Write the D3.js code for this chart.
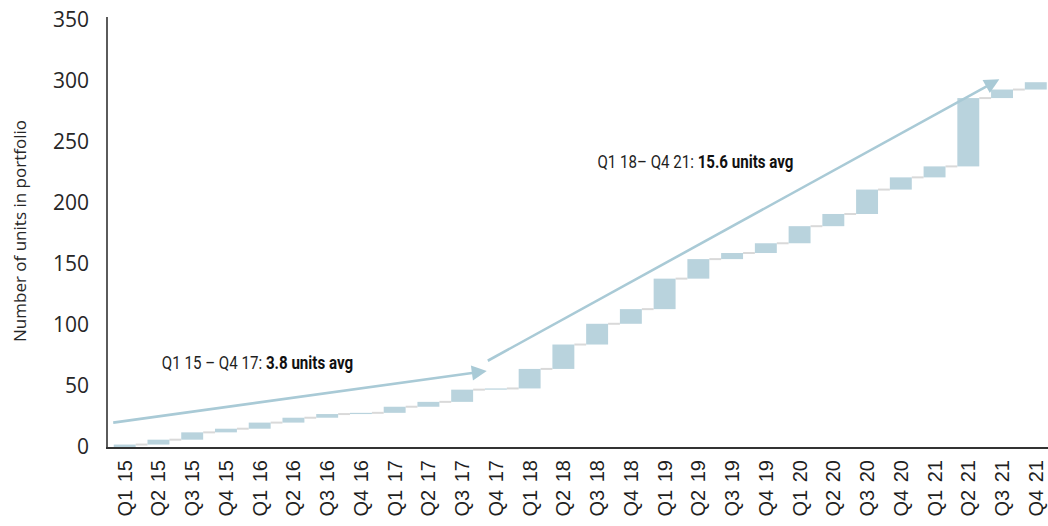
<!DOCTYPE html>
<html>
<head>
<meta charset="utf-8">
<script src="https://cdn.jsdelivr.net/npm/d3@7"></script>
<style>
  html, body { margin: 0; padding: 0; background: #ffffff; }
  svg { display: block; }
</style>
</head>
<body>
<svg id="chart" width="1048" height="526"></svg>
<script>
// Quarterly additions to the portfolio (units), Q1 2015 – Q4 2021
const quarters = [
  "Q1 15", "Q2 15", "Q3 15", "Q4 15",
  "Q1 16", "Q2 16", "Q3 16", "Q4 16",
  "Q1 17", "Q2 17", "Q3 17", "Q4 17",
  "Q1 18", "Q2 18", "Q3 18", "Q4 18",
  "Q1 19", "Q2 19", "Q3 19", "Q4 19",
  "Q1 20", "Q2 20", "Q3 20", "Q4 20",
  "Q1 21", "Q2 21", "Q3 21", "Q4 21"
];
const additions = [
  2, 4, 6, 3,
  5, 4, 3, 1,
  5, 4, 10, 1,
  16, 20, 17, 12,
  25, 16, 5, 8,
  14, 10, 20, 10,
  9, 56, 7, 6
];
const yTicks = [0, 50, 100, 150, 200, 250, 300, 350];
const yTitle = "Number of units in portfolio";

// Trend arrows: [quarter index, units] for start and tip
const trendFrom = [[-0.34, 20], [10.76, 70.7]];
const trendTo = [[10.73, 62.3], [25.92, 301.4]];
// Trend annotations
const trendPeriod = ["Q1 15 – Q4 17: ", "Q1 18– Q4 21: "];
const trendAvg = ["3.8 units avg", "15.6 units avg"];
const trendTextAt = [[1.1, 63.7], [14.01, 228.4]];

const totals = Array.from(d3.cumsum(additions));
const steps = quarters.map((q, i) => ({
  q, start: i === 0 ? 0 : totals[i - 1], end: totals[i]
}));

const svg = d3.select("#chart");
const barColor = "#b9d3dd";
const arrowColor = "#a9cad6";
const connectorColor = "#d9d9d9";
const axisColor = "#333333";

const x = d3.scaleBand()
  .domain(quarters)
  .range([107, 1053.5])
  .paddingInner(0.35)
  .paddingOuter(0.2);

const y = d3.scaleLinear()
  .domain([0, 350])
  .range([447, 20]);

const xIdx = i => x(quarters[0]) + x.bandwidth() / 2 + i * x.step();

// Connectors between consecutive bars at the running total
svg.append("g")
  .selectAll("line")
  .data(steps.slice(0, -1))
  .join("line")
  .attr("x1", d => x(d.q) + x.bandwidth())
  .attr("x2", (d, i) => x(quarters[i + 1]))
  .attr("y1", d => y(d.end))
  .attr("y2", d => y(d.end))
  .attr("stroke", connectorColor)
  .attr("stroke-width", 2);

// Waterfall bars
svg.append("g")
  .selectAll("rect")
  .data(steps)
  .join("rect")
  .attr("x", d => x(d.q))
  .attr("width", x.bandwidth())
  .attr("y", d => y(d.end))
  .attr("height", d => y(d.start) - y(d.end))
  .attr("fill", barColor);

// Trend arrows
const arrows = svg.append("g");
trendFrom.forEach((from, k) => {
  const to = trendTo[k];
  const x1 = xIdx(from[0]), y1 = y(from[1]);
  const x2 = xIdx(to[0]), y2 = y(to[1]);
  const ang = Math.atan2(y2 - y1, x2 - x1);
  const headLen = 15, headHalf = 7.5;
  const bx = x2 - headLen * Math.cos(ang), by = y2 - headLen * Math.sin(ang);
  arrows.append("line")
    .attr("x1", x1).attr("y1", y1)
    .attr("x2", bx + 2 * Math.cos(ang)).attr("y2", by + 2 * Math.sin(ang))
    .attr("stroke", arrowColor)
    .attr("stroke-width", 2.6);
  const px = -Math.sin(ang), py = Math.cos(ang);
  arrows.append("path")
    .attr("d", `M${x2},${y2}L${bx + headHalf * px},${by + headHalf * py}L${bx - headHalf * px},${by - headHalf * py}Z`)
    .attr("fill", arrowColor);
});

// Trend annotations: period in regular weight, average in bold,
// set in a horizontally condensed face
const labelWidths = [191.5, 196];
trendPeriod.forEach((label, k) => {
  const g = svg.append("g");
  const t = g.append("text")
    .attr("x", 0)
    .attr("y", 0)
    .attr("font-family", "Roboto, 'Noto Sans', sans-serif")
    .attr("font-size", 18)
    .attr("fill", "#1f1f1f");
  t.append("tspan").attr("font-weight", 400).text(label);
  t.append("tspan").attr("font-weight", 700).attr("fill", "#111111").text(trendAvg[k]);
  const natural = t.node().getComputedTextLength();
  const sx = labelWidths[k] / natural;
  g.attr("transform",
    `translate(${xIdx(trendTextAt[k][0])},${y(trendTextAt[k][1])}) scale(${sx},1)`);
});

// Y axis
const yAxis = svg.append("g")
  .attr("transform", "translate(107,0)")
  .call(d3.axisLeft(y).tickValues(yTicks).tickSize(0).tickPadding(18));
yAxis.select(".domain")
  .attr("stroke", axisColor)
  .attr("stroke-width", 1.6)
  .attr("d", `M0,${y(350) - 3}V${y(0) + 2}`);
yAxis.selectAll("text")
  .attr("font-family", "'Open Sans', sans-serif")
  .attr("font-size", 21)
  .attr("fill", "#262626");

// X axis
const xAxis = svg.append("g")
  .attr("transform", "translate(0,448)")
  .call(d3.axisBottom(x).tickSize(0).tickPadding(0));
xAxis.select(".domain")
  .attr("stroke", axisColor)
  .attr("stroke-width", 2.2)
  .attr("d", "M106,0H1048");
xAxis.selectAll("text")
  .attr("font-family", "'Liberation Sans', Arial, sans-serif")
  .attr("font-size", 20)
  .attr("fill", "#1f1f1f")
  .attr("text-anchor", "end")
  .attr("word-spacing", 2)
  .attr("transform", "translate(7,12) rotate(-90)")
  .attr("dy", 0)
  .attr("y", 0)
  .attr("x", 0);

// Y axis title
svg.append("text")
  .attr("transform", "translate(26,231) rotate(-90)")
  .attr("text-anchor", "middle")
  .attr("font-family", "'Open Sans', sans-serif")
  .attr("font-size", 17)
  .attr("fill", "#262626")
  .text(yTitle);
</script>
</body>
</html>
